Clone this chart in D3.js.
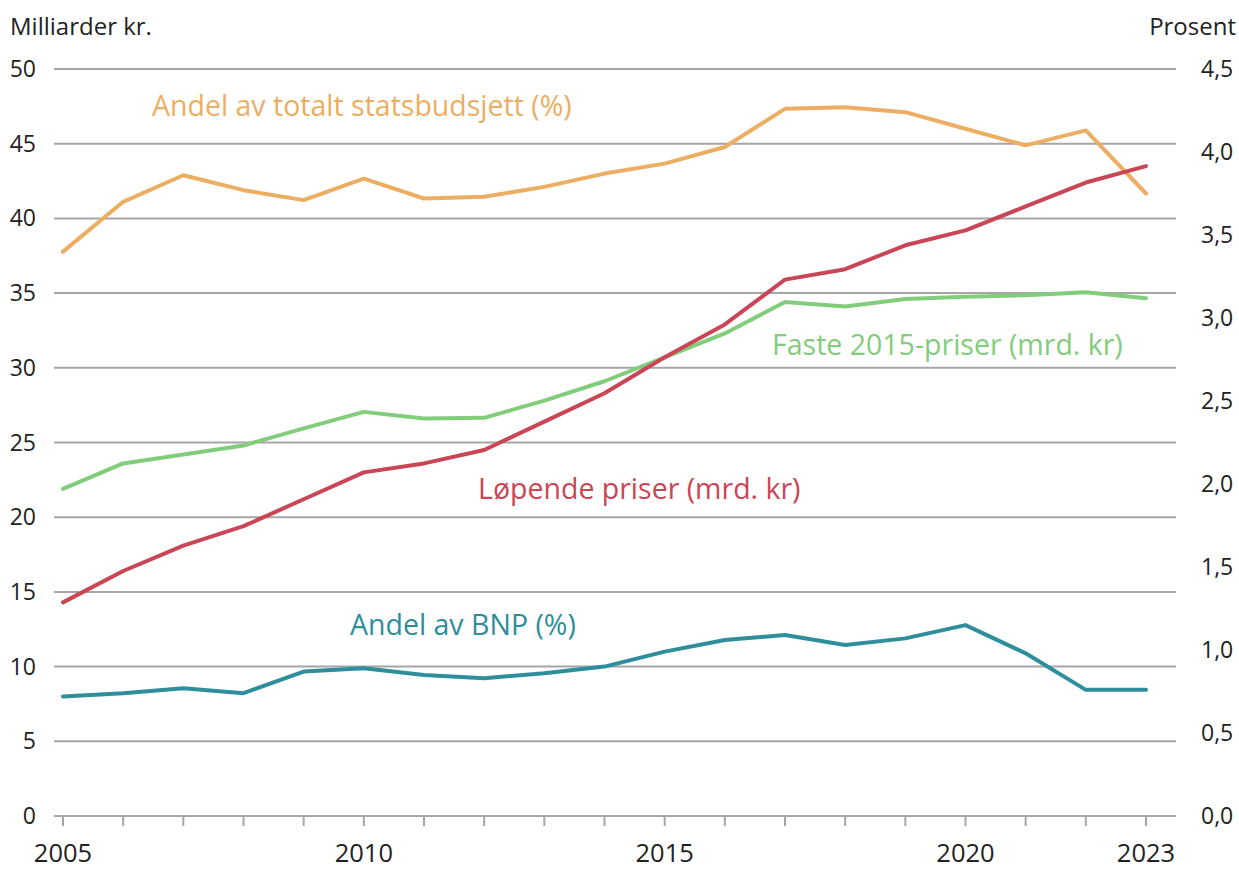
<!DOCTYPE html>
<html>
<head>
<meta charset="utf-8">
<script src="https://cdn.jsdelivr.net/npm/d3@7"></script>
<style>
  body { margin: 0; background: #fff; }
  text { font-family: "Open Sans", Lato, sans-serif; }
</style>
</head>
<body>
<div id="chart"></div>
<script>
// data
const years = d3.range(2005, 2024);
const lopende = [14.3, 16.4, 18.1, 19.4, 21.2, 23.0, 23.6, 24.5, 26.4, 28.3, 30.7, 32.9, 35.9, 36.6, 38.2, 39.2, 40.8, 42.4, 43.5];
const faste = [21.9, 23.6, 24.2, 24.8, 25.95, 27.05, 26.6, 26.65, 27.8, 29.1, 30.7, 32.3, 34.4, 34.1, 34.6, 34.75, 34.85, 35.05, 34.65];
const andelBudsjett = [3.40, 3.70, 3.86, 3.77, 3.71, 3.84, 3.72, 3.73, 3.79, 3.87, 3.93, 4.03, 4.26, 4.27, 4.24, 4.14, 4.04, 4.13, 3.75];
const andelBnp = [0.72, 0.74, 0.77, 0.74, 0.87, 0.89, 0.85, 0.83, 0.86, 0.90, 0.99, 1.06, 1.09, 1.03, 1.07, 1.15, 0.98, 0.76, 0.76];
const leftTicks = [0, 5, 10, 15, 20, 25, 30, 35, 40, 45, 50];
const rightTicks = [0, 0.5, 1, 1.5, 2, 2.5, 3, 3.5, 4, 4.5];
const xLabels = [2005, 2010, 2015, 2020, 2023];

const width = 1239, height = 870;
const svg = d3.select("#chart").append("svg")
    .attr("width", width).attr("height", height);

const x = d3.scaleLinear().domain([2005, 2023]).range([63, 1146]);
const yL = d3.scaleLinear().domain([0, 50]).range([816, 69]);
const yR = d3.scaleLinear().domain([0, 4.5]).range([816, 69]);

const gridColor = "#a6a6a6";

// gridlines
svg.append("g").selectAll("line")
    .data(leftTicks)
    .join("line")
    .attr("x1", 54).attr("x2", 1176)
    .attr("y1", d => yL(d)).attr("y2", d => yL(d))
    .attr("stroke", gridColor).attr("stroke-width", 2);

// x ticks
svg.append("g").selectAll("line")
    .data(years)
    .join("line")
    .attr("x1", d => x(d)).attr("x2", d => x(d))
    .attr("y1", 816).attr("y2", 826)
    .attr("stroke", gridColor).attr("stroke-width", 2);

// left axis labels
svg.append("g").selectAll("text")
    .data(leftTicks)
    .join("text")
    .attr("x", 36).attr("y", d => yL(d))
    .attr("dy", "0.35em")
    .attr("text-anchor", "end")
    .attr("font-size", 23).attr("fill", "#222")
    .text(d => d);

// right axis labels
const fmtR = d => d3.format(".1f")(d).replace(".", ",");
svg.append("g").selectAll("text")
    .data(rightTicks)
    .join("text")
    .attr("x", 1201).attr("y", d => yR(d))
    .attr("dy", "0.35em")
    .attr("font-size", 23).attr("fill", "#222")
    .text(fmtR);

// x labels
svg.append("g").selectAll("text")
    .data(xLabels)
    .join("text")
    .attr("x", d => x(d)).attr("y", 862)
    .attr("text-anchor", "middle")
    .attr("font-size", 25.5).attr("fill", "#222")
    .text(d => d);

// axis titles
svg.append("text").attr("x", 10).attr("y", 35)
    .attr("font-size", 24).attr("fill", "#222").text("Milliarder kr.");
svg.append("text").attr("x", 1236).attr("y", 35)
    .attr("text-anchor", "end")
    .attr("font-size", 24).attr("fill", "#222").text("Prosent");

// lines
const series = [
    { values: andelBudsjett, scale: yR, color: "#ebae62" },
    { values: faste, scale: yL, color: "#82cd7b" },
    { values: lopende, scale: yL, color: "#c94656" },
    { values: andelBnp, scale: yR, color: "#2e8e9c" }
];

series.forEach(s => {
    const line = d3.line()
        .x((d, i) => x(years[i]))
        .y(d => s.scale(d));
    svg.append("path")
        .datum(s.values)
        .attr("d", line)
        .attr("fill", "none")
        .attr("stroke", s.color)
        .attr("stroke-width", 4)
        .attr("stroke-linejoin", "round")
        .attr("stroke-linecap", "round");
});

// series labels
const labels = [
    { text: "Andel av totalt statsbudsjett (%)", x: 152, y: 116, color: "#ebae62" },
    { text: "Faste 2015-priser (mrd. kr)", x: 772, y: 355, color: "#82cd7b" },
    { text: "Løpende priser (mrd. kr)", x: 478, y: 499, color: "#c94656" },
    { text: "Andel av BNP (%)", x: 350, y: 635, color: "#2e8e9c" }
];
svg.append("g").selectAll("text")
    .data(labels)
    .join("text")
    .attr("x", d => d.x).attr("y", d => d.y)
    .attr("font-size", 28.5)
    .attr("fill", d => d.color)
    .text(d => d.text);
</script>
</body>
</html>
